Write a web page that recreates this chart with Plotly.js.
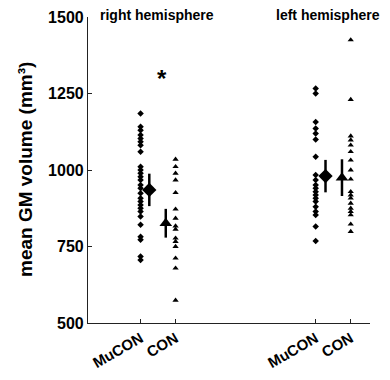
<!DOCTYPE html>
<html>
<head>
<meta charset="utf-8">
<script src="https://cdn.plot.ly/plotly-3.0.1.min.js"></script>
<style>html,body{margin:0;padding:0;background:#fff;}</style>
</head>
<body>
<div id="chart"></div>
<script>
// Group positions / labels
const groupLabels = ["MuCON", "CON", "MuCON", "CON"];
const groupPos = [0, 1, 5, 6];

// Individual values (mm³)
const mucon_right = [1185, 1141, 1130, 1114, 1103, 1092, 1081, 1060, 1011, 1000, 989, 978, 967, 951, 940, 924, 908, 897, 886, 875, 864, 848, 821, 782, 772, 717, 706];
const con_right = [1035, 1011, 989, 967, 926, 872, 842, 817, 806, 777, 766, 750, 712, 679, 574];
const mucon_left = [1266, 1250, 1157, 1136, 1119, 1100, 1043, 984, 967, 951, 940, 929, 918, 908, 897, 880, 864, 853, 815, 768];
const con_left = [1425, 1230, 1111, 1098, 1081, 1060, 1032, 1000, 970, 929, 918, 908, 891, 875, 864, 853, 823, 799];

// Means and error (mm³)
const means = [935, 826, 980, 975];
const errs = [53, 47, 53, 60];
const meanPos = [0.25, 0.72, 5.28, 5.75];

const black = "#000";
function pts(vals, x, sym, size) {
  return {
    type: "scatter", mode: "markers",
    x: vals.map(() => x), y: vals,
    marker: {symbol: sym, size: size, color: black},
    showlegend: false, hoverinfo: "y"
  };
}
const traces = [
  pts(mucon_right, groupPos[0], "diamond", 5),
  pts(con_right, groupPos[1], "triangle-up", 5.5),
  pts(mucon_left, groupPos[2], "diamond", 5),
  pts(con_left, groupPos[3], "triangle-up", 5.5)
];
const meanSyms = ["diamond", "triangle-up", "diamond", "triangle-up"];
for (let i = 0; i < 4; i++) {
  traces.push({
    type: "scatter", mode: "markers",
    x: [meanPos[i]], y: [means[i]],
    marker: {symbol: meanSyms[i], size: 11, color: black},
    error_y: {type: "data", array: [errs[i]], visible: true, width: 0, thickness: 2.5, color: black},
    showlegend: false
  });
}

const fontFam = "Liberation Sans, Arial, sans-serif";
const boldFont = (s) => ({family: fontFam, size: s, color: black, weight: "bold"});

const annotations = [
  {x: 0.46, y: 1.006, xref: "x", yref: "paper", text: "right hemisphere", showarrow: false,
   font: boldFont(14), yanchor: "middle"},
  {x: 5.36, y: 1.006, xref: "x", yref: "paper", text: "left hemisphere", showarrow: false,
   font: boldFont(14), yanchor: "middle"},
  {x: 0.6, y: 1300, xref: "x", yref: "y", text: "*", showarrow: false,
   font: boldFont(24), yanchor: "middle"},
  {x: -0.2234, y: 0.5, xref: "paper", yref: "paper", text: "mean GM volume (mm³)", showarrow: false,
   textangle: -90, font: boldFont(19), xanchor: "center", yanchor: "middle"}
];

const layout = {
  width: 390, height: 380,
  margin: {l: 88, r: 20, t: 17, b: 57},
  paper_bgcolor: "#fff", plot_bgcolor: "#fff",
  showlegend: false,
  xaxis: {
    range: [-1.5, 6.55],
    tickmode: "array", tickvals: groupPos, ticktext: groupLabels,
    tickangle: -30,
    ticks: "inside", ticklen: 4, tickcolor: "#222",
    showgrid: false, zeroline: false,
    showline: true, linecolor: "#222", linewidth: 1.2,
    tickfont: {family: fontFam, size: 15, color: black, weight: "bold"},
    automargin: false
  },
  yaxis: {
    range: [500, 1500],
    tickvals: [500, 750, 1000, 1250, 1500],
    ticks: "inside", ticklen: 4, tickcolor: "#222",
    showgrid: false, zeroline: false,
    showline: true, linecolor: "#222", linewidth: 1.2,
    tickfont: boldFont(16),
    automargin: false
  },
  annotations: annotations
};
Plotly.newPlot("chart", traces, layout, {displayModeBar: false});
</script>
</body>
</html>
